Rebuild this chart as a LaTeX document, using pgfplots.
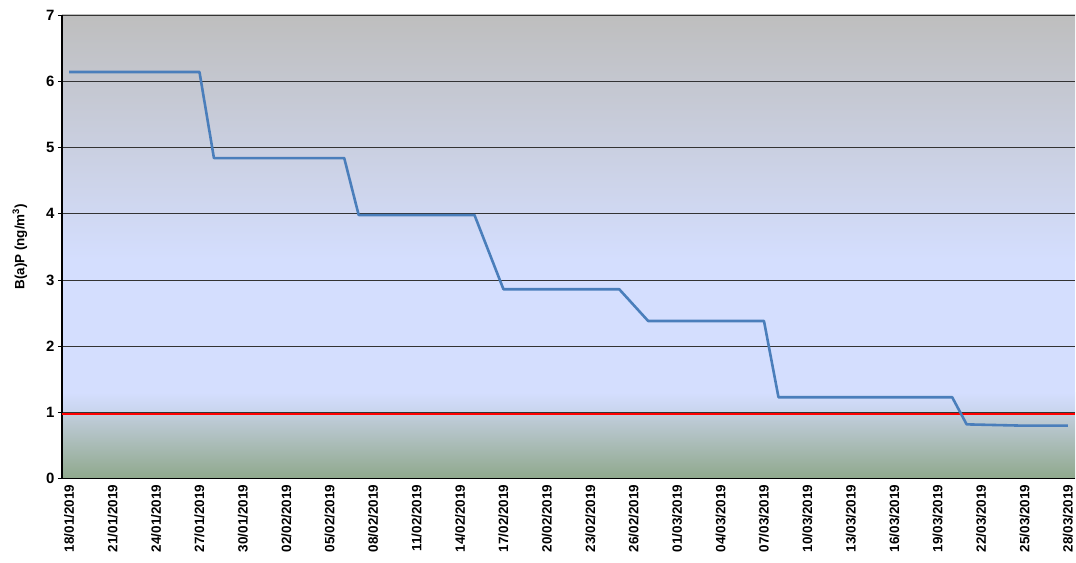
\documentclass[border=0pt]{standalone}
\usepackage{pgfplots}
\pgfplotsset{compat=1.18}
\usepackage{fontspec}
\setmainfont{Liberation Sans}
\definecolor{cgray}{RGB}{190,190,190}
\definecolor{cblue}{RGB}{212,222,254}
\definecolor{cblue2}{RGB}{200,212,236}
\definecolor{cblue3}{RGB}{194,206,222}
\definecolor{cgreen}{RGB}{143,168,140}
\definecolor{cline}{RGB}{74,126,187}
\begin{document}
\begin{tikzpicture}
\path (-62bp,-84bp) rectangle (1014bp,479bp);
\begin{axis}[
  set layers,
  at={(0,0)}, anchor=south west,
  scale only axis, width=1014bp, height=464bp,
  xmin=-0.5, xmax=69.5, ymin=0, ymax=7,
  ytick={0,1,...,7},
  xtick={0,3,...,69},
  xticklabels={18/01/2019,21/01/2019,24/01/2019,27/01/2019,30/01/2019,02/02/2019,05/02/2019,08/02/2019,11/02/2019,14/02/2019,17/02/2019,20/02/2019,23/02/2019,26/02/2019,01/03/2019,04/03/2019,07/03/2019,10/03/2019,13/03/2019,16/03/2019,19/03/2019,22/03/2019,25/03/2019,28/03/2019},
  x tick label style={rotate=90, anchor=east, font=\fontsize{13.5}{15}\selectfont\bfseries, inner sep=2bp},
  y tick label style={font=\fontsize{15}{17}\selectfont\bfseries},
  /pgf/number format/assume math mode=true,
  xtick style={draw=none},
  extra x ticks={-0.5,2.5,...,68.5},
  extra x tick labels={},
  extra x tick style={tick style={draw=black, line width=1pt}, major tick length=5bp, tick align=outside, grid=none},
  ytick style={draw=black, line width=0.6pt},
  major tick length=4bp, tick align=outside,
  ymajorgrids,
  major grid style={black!80, line width=0.7pt},
  axis x line*=bottom, axis y line*=left,
  axis line style={line width=1.6pt, -},
  ylabel={B(a)P (ng/m\textsuperscript{3})},
  ylabel style={font=\fontsize{13.5}{15}\selectfont\bfseries, at={(-42bp,0.5)}, anchor=center},
  clip=true,
]
\begin{pgfonlayer}{axis background}
\path[top color=cgray, bottom color=cblue] (axis cs:-0.5,3.3) rectangle (axis cs:69.5,7);
\fill[cblue] (axis cs:-0.5,1.3) rectangle (axis cs:69.5,3.3);
\path[top color=cblue, bottom color=cblue2] (axis cs:-0.5,1) rectangle (axis cs:69.5,1.3);
\path[top color=cblue3, bottom color=cgreen] (axis cs:-0.5,0) rectangle (axis cs:69.5,1);
\end{pgfonlayer}
\addplot[red, line width=1.3pt, forget plot] coordinates {(-0.5,0.978) (69.5,0.978)};
\addplot[cline, line width=2.6pt, line join=round] coordinates {
(0,6.14) (9,6.14) (10,4.84) (19,4.84) (20,3.98) (28,3.98) (30,2.86) (38,2.86) (40,2.38) (48,2.38) (49,1.23) (61,1.23) (62,0.82) (66,0.80) (69,0.80)
};
\end{axis}
\end{tikzpicture}
\end{document}
